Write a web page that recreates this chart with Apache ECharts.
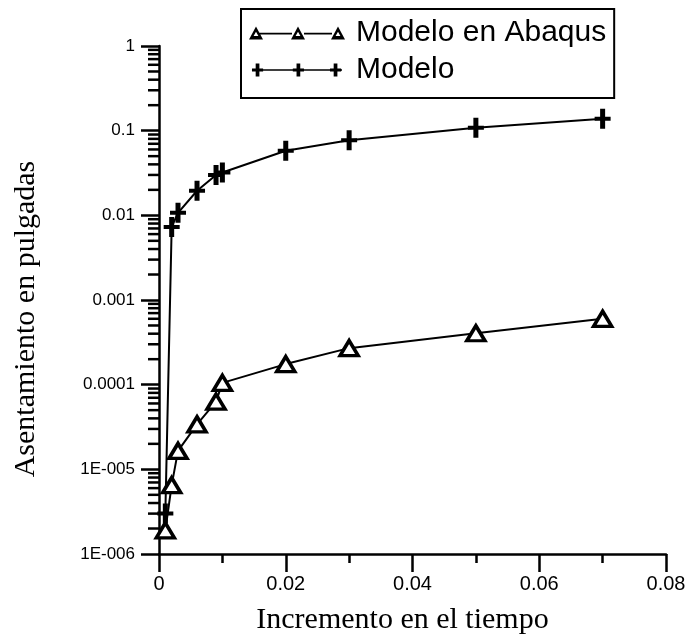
<!DOCTYPE html>
<html>
<head>
<meta charset="utf-8">
<script src="https://cdn.jsdelivr.net/npm/echarts@6/dist/echarts.min.js"></script>
<style>html,body{margin:0;padding:0;background:#fff;}#c{width:693px;height:642px;}</style>
</head>
<body>
<div id="c"></div>
<script>
// ---- data ----
var seriesNames = ['Modelo en Abaqus', 'Modelo'];
var xAbaqus = [0.001, 0.002, 0.003, 0.006, 0.009, 0.010, 0.02, 0.03, 0.05, 0.07];
var yAbaqus = [1.9e-6, 6.5e-6, 1.65e-5, 3.4e-5, 6.3e-5, 1.05e-4, 1.75e-4, 2.7e-4, 4.05e-4, 6.0e-4];
var xModelo = [0.001, 0.002, 0.003, 0.006, 0.009, 0.010, 0.02, 0.03, 0.05, 0.07];
var yModelo = [3.0e-6, 7.3e-3, 0.0107, 0.0195, 0.030, 0.032, 0.058, 0.077, 0.108, 0.138];
var yTickValues = [1e-6, 1e-5, 1e-4, 1e-3, 1e-2, 1e-1, 1];
var yTickLabels = ['1E-006', '1E-005', '0.0001', '0.001', '0.01', '0.1', '1'];
var xTickLabels = ['0', '0.02', '0.04', '0.06', '0.08'];
var xAxisTitle = 'Incremento en el tiempo';
var yAxisTitle = 'Asentamiento en pulgadas';

// minor tick positions on log axis (2..9 x each decade)
var yMinor = [];
for (var e = -6; e < 0; e++) {
  for (var k = 2; k <= 9; k++) yMinor.push([0, k * Math.pow(10, e)]);
}

function pairs(xs, ys) { return xs.map(function (x, i) { return [x, ys[i]]; }); }

var triIcon = 'path://' +
  'M9,6.3H43V7.9H9Z M55,6.3H83V7.9H55Z ' +
  [7, 49, 89].map(function (c) {
    return 'M' + (c - 7) + ',13L' + c + ',0L' + (c + 7) + ',13Z ' +
      'M' + (c - 2.4) + ',9.6L' + (c + 2.4) + ',9.6L' + c + ',5.2Z';
  }).join(' ') + ' M0,0H0.01V0.01H0Z M96,13H95.99V12.99H96Z';

var plusIcon = 'path://M0,6.2H96V7.8H0Z ' +
  [5, 49, 89].map(function (c) {
    return 'M' + (c - 2) + ',0H' + (c + 2) + 'V14H' + (c - 2) + 'Z ' +
      'M' + (c - 6) + ',5.5H' + (c + 6) + 'V8.5H' + (c - 6) + 'Z';
  }).join(' ');

var plusSymbol = 'path://M5.5,0H10.5V8H16V12H10.5V20H5.5V12H0V8H5.5Z';

var sans = 'Liberation Sans';
var serif = 'Liberation Serif';

var chart = echarts.init(document.getElementById('c'), null, {renderer: 'canvas'});
chart.setOption({
  animation: false,
  backgroundColor: '#fff',
  grid: {left: 159, right: 27, top: 46, bottom: 88, containLabel: false},
  legend: {
    left: 241, top: 9,
    orient: 'vertical',
    padding: [9, 8, 13, 8],
    itemGap: 7,
    itemWidth: 96, itemHeight: 13,
    borderColor: '#000', borderWidth: 2, backgroundColor: '#fff',
    selectedMode: false,
    textStyle: {fontFamily: sans, fontSize: 30, color: '#000', padding: [0, 0, 0, 6]},
    data: [
      {name: seriesNames[0], icon: triIcon, itemStyle: {color: '#000', borderWidth: 0}},
      {name: seriesNames[1], icon: plusIcon, itemStyle: {color: '#000', borderWidth: 0}}
    ]
  },
  xAxis: {
    type: 'value', min: 0, max: 0.08, interval: 0.02,
    name: xAxisTitle, nameLocation: 'middle', nameGap: 51,
    nameTextStyle: {fontFamily: serif, fontSize: 30, color: '#000', padding: [0, 20, 0, 0]},
    axisLine: {lineStyle: {color: '#000', width: 2.5}},
    axisTick: {inside: false, length: 18, lineStyle: {color: '#000', width: 2.5}},
    minorTick: {show: true, splitNumber: 2, length: 9, lineStyle: {color: '#000', width: 2.5}},
    splitLine: {show: false},
    axisLabel: {
      margin: 20, fontFamily: sans, fontSize: 20, color: '#000',
      formatter: function (v) { return xTickLabels[Math.round(v / 0.02)]; }
    }
  },
  yAxis: {
    type: 'log', logBase: 10, min: 1e-6, max: 1,
    name: yAxisTitle, nameLocation: 'middle', nameGap: 118,
    nameTextStyle: {fontFamily: serif, fontSize: 30, color: '#000', padding: [0, 38, 0, 0]},
    axisLine: {lineStyle: {color: '#000', width: 2.5}},
    axisTick: {inside: false, length: 18, lineStyle: {color: '#000', width: 2.5}},
    splitLine: {show: false},
    axisLabel: {
      margin: 24, fontFamily: sans, fontSize: 17, color: '#000',
      formatter: function (v) {
        var i = yTickValues.findIndex(function (t) { return Math.abs(Math.log10(t) - Math.log10(v)) < 1e-6; });
        return i >= 0 ? yTickLabels[i] : '';
      }
    }
  },
  series: [
    {
      type: 'custom',
      name: 'minorTicks',
      silent: true,
      clip: false,
      data: yMinor,
      renderItem: function (params, api) {
        var p = api.coord([api.value(0), api.value(1)]);
        return {
          type: 'line',
          shape: {x1: p[0] - 11, y1: p[1], x2: p[0], y2: p[1]},
          style: {stroke: '#000', lineWidth: 2.5}
        };
      }
    },
    {
      name: seriesNames[1],
      type: 'line',
      data: pairs(xModelo, yModelo),
      symbol: plusSymbol,
      symbolSize: [16, 20],
      clip: false,
      lineStyle: {color: '#000', width: 2},
      itemStyle: {color: '#000'},
      z: 3
    },
    {
      name: seriesNames[0],
      type: 'line',
      data: pairs(xAbaqus, yAbaqus),
      symbol: 'triangle',
      symbolSize: [18, 15],
      clip: false,
      lineStyle: {color: '#000', width: 2},
      itemStyle: {color: '#fff', borderColor: '#000', borderWidth: 3.5},
      z: 4
    }
  ]
});
</script>
</body>
</html>
